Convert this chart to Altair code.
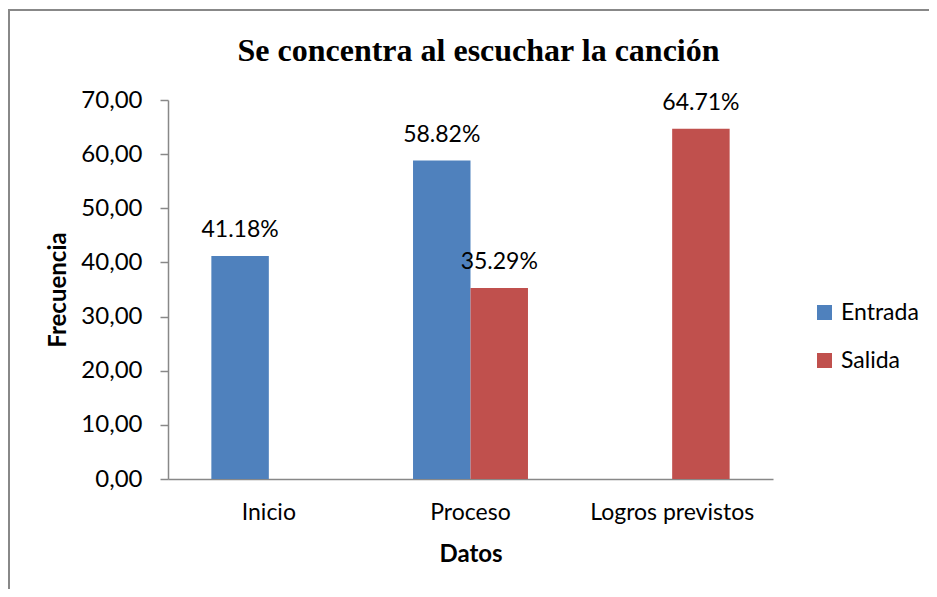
import altair as alt
import pandas as pd

categories = ["Inicio", "Proceso", "Logros previstos"]
series = ["Entrada", "Salida"]
entrada = [41.18, 58.82, None]
salida = [None, 35.29, 64.71]
colors = ["#4F81BD", "#C0504D"]

rows = []
for c, e, s in zip(categories, entrada, salida):
    if e is not None:
        rows.append({"Datos": c, "Serie": "Entrada", "Valor": e})
    if s is not None:
        rows.append({"Datos": c, "Serie": "Salida", "Valor": s})
df = pd.DataFrame(rows)

FONT = "Lato"
GRAY = "#888888"

base = alt.Chart(df).encode(
    x=alt.X("Datos:N", sort=categories,
            scale=alt.Scale(paddingInner=0.43, paddingOuter=0.215),
            axis=alt.Axis(title="Datos", labelAngle=0, ticks=False,
                          domainColor=GRAY, domainWidth=1.5,
                          labelFont=FONT, labelFontSize=23, labelColor="#000",
                          labelPadding=22, titleFont=FONT, titleFontSize=24,
                          titleFontWeight="bold", titleColor="#000",
                          titlePadding=18)),
    xOffset=alt.XOffset("Serie:N", sort=series,
                        scale=alt.Scale(domain=series, paddingInner=0, paddingOuter=0)),
    y=alt.Y("Valor:Q",
            scale=alt.Scale(domain=[0, 70], nice=False),
            axis=alt.Axis(title="Frecuencia", values=[0, 10, 20, 30, 40, 50, 60, 70],
                          labelExpr="replace(format(datum.value, '.2f'), '.', ',')",
                          grid=False, domainColor=GRAY, domainWidth=1.5,
                          tickColor=GRAY, tickSize=8, tickWidth=1.5,
                          labelFont=FONT, labelFontSize=24, labelColor="#000",
                          labelPadding=18, titleFont=FONT, titleFontSize=24,
                          titleFontWeight="bold", titleColor="#000",
                          titlePadding=10)),
)

bars = base.mark_bar().encode(
    color=alt.Color("Serie:N", sort=series,
                    scale=alt.Scale(domain=series, range=colors),
                    legend=alt.Legend(title=None, orient="none", legendX=645, legendY=201,
                                      symbolType="square", symbolSize=225,
                                      symbolStrokeWidth=0, labelFont=FONT,
                                      labelFontSize=23, labelColor="#000",
                                      labelOffset=5, rowPadding=24, padding=0)),
)

labels = base.mark_text(font=FONT, fontSize=23, color="#000",
                        baseline="alphabetic", dy=-19).encode(
    text=alt.Text("label:N"),
).transform_calculate(label="format(datum.Valor, '.2f') + '%'")

frame_top = alt.Chart(df).mark_rule(stroke=GRAY, strokeWidth=2).encode(
    x=alt.value(-160), x2=alt.value(1200), y=alt.value(-90)
)
frame_left = alt.Chart(df).mark_rule(stroke=GRAY, strokeWidth=2).encode(
    x=alt.value(-159), y=alt.value(-91), y2=alt.value(1200)
)

chart = alt.layer(frame_top, frame_left, bars, labels).properties(
    width=605, height=379,
    background="white",
    title=alt.TitleParams("Se concentra al escuchar la canción",
                          font="Liberation Serif", fontSize=32, fontWeight="bold",
                          color="#000", anchor="middle", dx=8, offset=-85,
                          baseline="alphabetic"),
    padding={"left": 160, "top": 92, "right": 156, "bottom": 110},
    autosize=alt.AutoSizeParams(type="none"),
).configure_view(strokeWidth=0, stroke="transparent")

chart.save("out.html", embed_options={"renderer": "svg", "actions": False})
